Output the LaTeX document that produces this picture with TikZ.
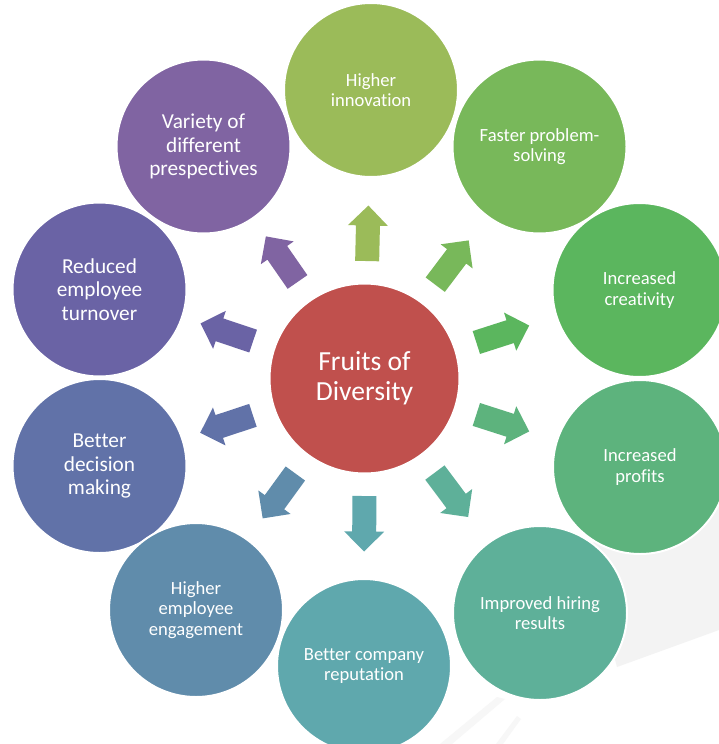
\documentclass[tikz,border=0pt]{standalone}
\usepackage{fontspec}
\setmainfont{Carlito}[Ligatures=NoCommon]
\usetikzlibrary{calc}

% colour range from olive green to purple
\definecolor{fA}{HTML}{9BBB59}
\definecolor{fB}{HTML}{78B85A}
\definecolor{fC}{HTML}{5BB65E}
\definecolor{fD}{HTML}{5DB37D}
\definecolor{fE}{HTML}{5EB099}
\definecolor{fF}{HTML}{5FA8AD}
\definecolor{fG}{HTML}{608CAB}
\definecolor{fH}{HTML}{6172A8}
\definecolor{fI}{HTML}{6A63A5}
\definecolor{fJ}{HTML}{8064A2}
\definecolor{coreRed}{HTML}{C0504D}
\definecolor{ghost}{HTML}{F3F3F3}
\definecolor{ghostlight}{HTML}{F7F7F7}

% block arrow from the core towards a fruit circle
\newcommand{\fruitarrow}[2]{%
  \coordinate (ta) at ($(core.center)!117.5pt!(#1.center)$);
  \coordinate (hb) at ($(core.center)!153pt!(#1.center)$);
  \coordinate (tp) at ($(core.center)!173pt!(#1.center)$);
  \fill[#2] ($(ta)!12pt!90:(tp)$) -- ($(hb)!12pt!90:(tp)$) -- ($(hb)!20pt!90:(tp)$)
    -- (tp) -- ($(hb)!20pt!-90:(tp)$) -- ($(hb)!12pt!-90:(tp)$) -- ($(ta)!12pt!-90:(tp)$) -- cycle;
}

\begin{document}
\begin{tikzpicture}[x=1pt,y=-1pt,
  fruit/.style={circle, draw=white, line width=2pt, minimum size=174pt, inner sep=0pt,
    align=center, text=white, font=\fontsize{18.6}{20.4}\selectfont},
  fruitlg/.style={fruit, font=\fontsize{21.3}{23.4}\selectfont},
  corecircle/.style={circle, fill=coreRed, draw=white, line width=2pt, minimum size=190pt,
    inner sep=0pt, align=center, text=white, font=\fontsize{27.6}{30.3}\selectfont}]
\useasboundingbox (0,0) rectangle (719,744);
\fill[white] (0,0) rectangle (719,744);

% faint background swoosh
\fill[ghost] (585,545) -- (719,505) -- (719,630) -- (617,667) -- cycle;
\fill[ghostlight] (497,697) -- (505,699) -- (452,744) -- (440,744) -- cycle;
\fill[ghostlight] (517,716) -- (521,719) -- (503,744) -- (496,744) -- cycle;

% outer circles
\node[fruit, fill=fA] (o1) at (371,90) {Higher\\innovation};
\node[fruit, fill=fB] (o2) at (539.5,146.5) {Faster problem-\\solving};
\node[fruit, fill=fC] (o3) at (639.5,290) {Increased\\creativity};
\node[fruit, fill=fD] (o4) at (640,467) {Increased\\profits};
\node[fruit, fill=fE] (o5) at (540,613) {Improved hiring\\results};
\node[fruit, fill=fF] (o6) at (364,666) {Better company\\reputation};
\node[fruitlg, fill=fH] (o8) at (99.5,466) {Better\\decision\\making};
\node[fruit, fill=fG] (o7) at (196,610) {Higher\\employee\\engagement};
\node[fruitlg, fill=fI] (o9) at (99.5,289.5) {Reduced\\employee\\turnover};
\node[fruitlg, fill=fJ] (o10) at (203.5,146.5) {Variety of\\different\\prespectives};

% core
\node[corecircle] (core) at (364.5,378.5) {Fruits of\\Diversity};

% arrows
\fruitarrow{o1}{fA}
\fruitarrow{o2}{fB}
\fruitarrow{o3}{fC}
\fruitarrow{o4}{fD}
\fruitarrow{o5}{fE}
\fruitarrow{o6}{fF}
\fruitarrow{o7}{fG}
\fruitarrow{o8}{fH}
\fruitarrow{o9}{fI}
\fruitarrow{o10}{fJ}
\end{tikzpicture}
\end{document}
